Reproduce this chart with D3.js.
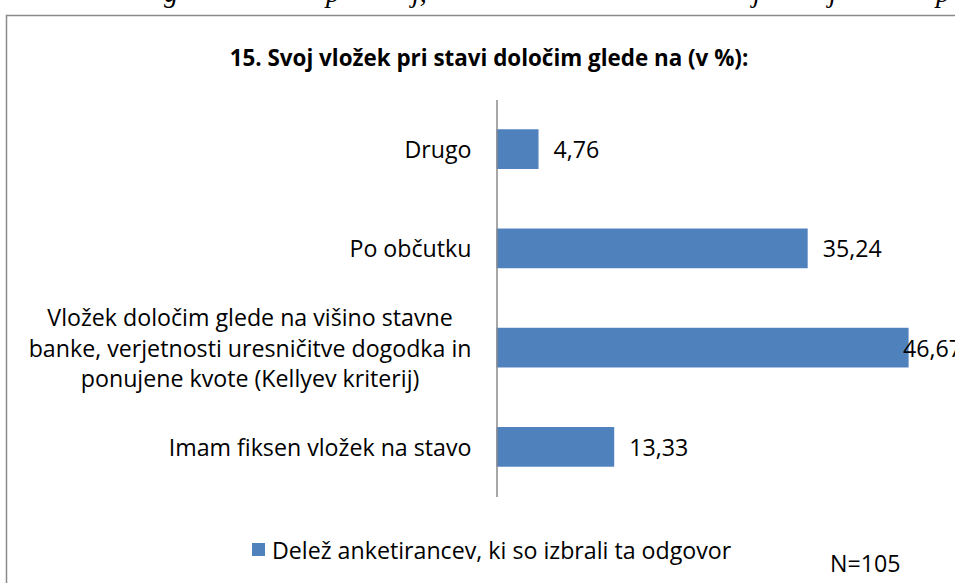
<!DOCTYPE html>
<html>
<head>
<meta charset="utf-8">
<script src="https://cdn.jsdelivr.net/npm/d3@7"></script>
<style>
  body { margin: 0; background: #fff; }
  svg { display: block; }
  .lbl { font-family: "Open Sans", sans-serif; font-size: 23.2px; fill: #000; }
</style>
</head>
<body>
<div id="chart"></div>
<script>
// chart data
const categories = [
    ["Drugo"],
    ["Po občutku"],
    ["Vložek določim glede na višino stavne", "banke, verjetnosti uresničitve dogodka in", "ponujene kvote (Kellyev kriterij)"],
    ["Imam fiksen vložek na stavo"]
];
const values = [4.76, 35.24, 46.67, 13.33];
const seriesName = "Delež anketirancev, ki so izbrali ta odgovor";
const titleText = "15. Svoj vložek pri stavi določim glede na (v %):";
const noteText = "N=105";
// cut off line of the document above the chart (only descenders show)
const topGlyphs = ["g", "p", "j,", "j", "j", "p"];

const width = 955, height = 583;
const axisX = 496.5;
const plotRight = 962;   // right edge of the chart area (runs off the page)

const svg = d3.select("#chart").append("svg")
    .attr("width", width)
    .attr("height", height);

// document text cut at the top edge
const topX = [164, 326, 412, 753, 829, 936];
svg.append("g").selectAll("text")
    .data(topGlyphs)
    .enter().append("text")
    .attr("x", (d, i) => topX[i])
    .attr("y", 2)
    .style("font-family", "'Liberation Serif', serif")
    .style("font-style", "italic")
    .style("font-size", "28px")
    .text(d => d);

// chart frame (right and bottom run off the page)
svg.append("rect")
    .attr("x", 6.5).attr("y", 15.5)
    .attr("width", 1000).attr("height", 1000)
    .attr("fill", "none")
    .attr("stroke", "#8a8a8a")
    .attr("stroke-width", 1.5);

// title
svg.append("text")
    .attr("x", 489)
    .attr("y", 57)
    .attr("text-anchor", "middle")
    .attr("dominant-baseline", "central")
    .style("font-family", "'Open Sans', sans-serif")
    .style("font-weight", "bold")
    .style("font-size", "22.4px")
    .text(titleText);

const x = d3.scaleLinear()
    .domain([0, 50])
    .range([axisX, axisX + 50 * 8.83]);

const y = d3.scaleBand()
    .domain(d3.range(categories.length))
    .range([99.5, 496.5])
    .paddingInner(0.6)
    .paddingOuter(0.3);

// bars
svg.append("g").selectAll("rect")
    .data(values)
    .enter().append("rect")
    .attr("x", x(0))
    .attr("y", (d, i) => y(i))
    .attr("width", d => x(d) - x(0))
    .attr("height", y.bandwidth())
    .attr("fill", "#4f81bd");

// vertical category axis
const axis = svg.append("g")
    .attr("transform", `translate(${axisX},0)`)
    .call(d3.axisLeft(y).tickSize(0).tickFormat(""));
axis.select(".domain")
    .attr("stroke", "#8a8a8a")
    .attr("stroke-width", 1.5);

// category labels
const labelRight = axisX - 25;
const lineH = 30.5;
categories.forEach((lines, i) => {
    const cy = y(i) + y.bandwidth() / 2;
    const t = svg.append("text")
        .attr("class", "lbl")
        .attr("dominant-baseline", "central");
    lines.forEach((ln, k) => {
        t.append("tspan")
            .attr("y", cy + (k - (lines.length - 1) / 2) * lineH)
            .text(ln);
    });
    if (lines.length === 1) {
        t.attr("text-anchor", "end");
        t.selectAll("tspan").attr("x", labelRight);
    } else {
        let maxW = 0;
        t.selectAll("tspan").each(function () {
            maxW = Math.max(maxW, this.getComputedTextLength());
        });
        t.attr("text-anchor", "middle");
        t.selectAll("tspan").attr("x", labelRight - maxW / 2);
    }
});

// value labels (pushed back inside the chart area when too long, like Excel)
const fmt = v => v.toFixed(2).replace(".", ",");
svg.append("g").selectAll("text")
    .data(values)
    .enter().append("text")
    .attr("class", "lbl")
    .attr("y", (d, i) => y(i) + y.bandwidth() / 2)
    .attr("dominant-baseline", "central")
    .text(d => fmt(d))
    .attr("x", function (d) {
        const w = this.getComputedTextLength();
        return Math.min(x(d) + 15, plotRight - w);
    });

// legend
const legend = svg.append("g").attr("transform", "translate(252,543)");
legend.append("rect")
    .attr("width", 13).attr("height", 13)
    .attr("fill", "#4f81bd");
legend.append("text")
    .attr("class", "lbl")
    .attr("x", 20)
    .attr("y", 6.5)
    .attr("dominant-baseline", "central")
    .text(seriesName);

svg.append("text")
    .attr("class", "lbl")
    .attr("x", 830)
    .attr("y", 563)
    .attr("dominant-baseline", "central")
    .text(noteText);
</script>
</body>
</html>
